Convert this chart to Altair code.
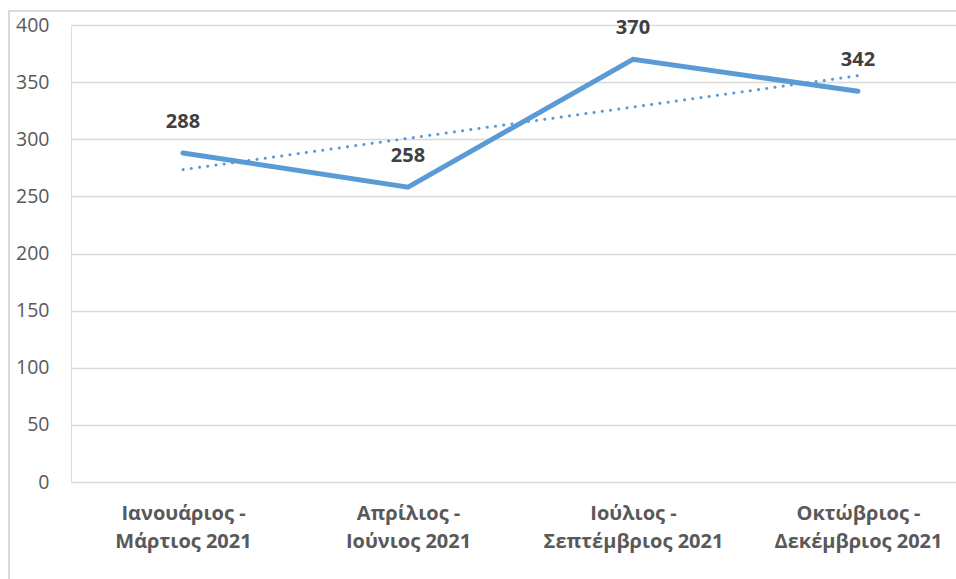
import altair as alt
import pandas as pd

# Quarterly totals for 2021
periods = [
    "Ιανουάριος - Μάρτιος 2021",
    "Απρίλιος - Ιούνιος 2021",
    "Ιούλιος - Σεπτέμβριος 2021",
    "Οκτώβριος - Δεκέμβριος 2021",
]
values = [288, 258, 370, 342]
order = [1, 2, 3, 4]
y_ticks = [0, 50, 100, 150, 200, 250, 300, 350, 400]

df = pd.DataFrame({"period": periods, "value": values, "idx": order})

FONT = "Open Sans"
BLUE = "#5b9bd5"

# Category positions: the last category column runs past the right edge
x_scale = alt.Scale(type="point", padding=0.4667, align=0.5333)

x_enc = alt.X(
    "period:N",
    sort=periods,
    scale=x_scale,
    axis=alt.Axis(
        title=None,
        domain=False,
        ticks=False,
        grid=False,
        labelAngle=0,
        labelAlign="center",
        labelFont=FONT,
        labelFontSize=20,
        labelFontWeight="bold",
        labelColor="#595959",
        labelPadding=21,
        labelLineHeight=28,
        labelBaseline="top",
        labelExpr="split(replace(datum.label, ' - ', ' -\\n'), '\\n')",
    ),
)

y_scale = alt.Scale(domain=[0, 400], nice=False, zero=True)
y_axis = alt.Axis(
    title=None,
    values=y_ticks,
    domain=False,
    ticks=False,
    grid=True,
    gridColor="#d9d9d9",
    gridWidth=1.3,
    labelFont=FONT,
    labelFontSize=19.5,
    labelColor="#595959",
    labelPadding=22,
)

base = alt.Chart(df)

# Outer chart frame
frame = base.mark_rect(fill=None, stroke="#d9d9d9", strokeWidth=1.5).encode(
    x=alt.value(-62), y=alt.value(-14), x2=alt.value(900), y2=alt.value(600)
)

line = base.mark_line(
    color=BLUE, strokeWidth=5, strokeCap="round", strokeJoin="miter"
).encode(x=x_enc, y=alt.Y("value:Q", scale=y_scale, axis=y_axis))

# Linear trend over the four quarters
trend = (
    base.transform_regression("idx", "value", method="linear")
    .transform_lookup(
        lookup="idx",
        from_=alt.LookupData(data=df, key="idx", fields=["period"]),
    )
    .mark_line(color=BLUE, strokeWidth=3, strokeDash=[0.1, 8.2], strokeCap="round")
    .encode(x=alt.X("period:N", sort=periods), y=alt.Y("value:Q", scale=y_scale))
)

labels = base.mark_text(
    font=FONT,
    fontSize=20,
    fontWeight="bold",
    color="#404040",
    baseline="middle",
    dy=-31,
).encode(
    x=alt.X("period:N", sort=periods),
    y=alt.Y("value:Q", scale=y_scale),
    text=alt.Text("value:Q"),
)

chart = (
    alt.layer(frame, trend, line, labels)
    .properties(
        width=885,
        height=457,
        autosize=alt.AutoSizeParams(type="none"),
        padding={"left": 71, "top": 25, "right": 0, "bottom": 97},
    )
    .configure_view(strokeWidth=0, stroke="transparent")
    .configure(background="white")
)

chart.save("out.html", embed_options={"renderer": "svg", "actions": False})
